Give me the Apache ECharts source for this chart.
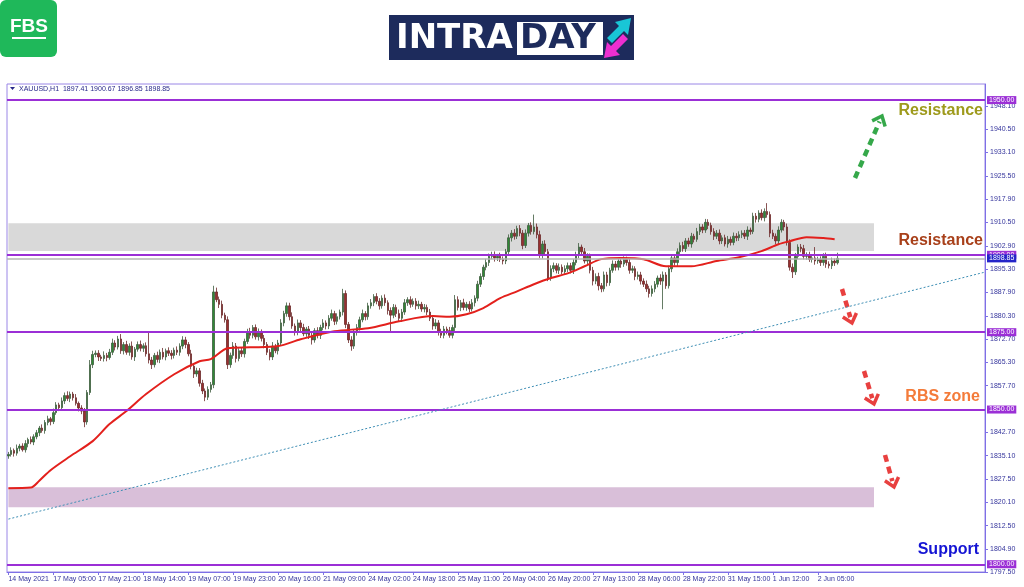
<!DOCTYPE html>
<html>
<head>
<meta charset="utf-8">
<script src="https://cdn.jsdelivr.net/npm/echarts@6/dist/echarts.min.js"></script>
<style>
html,body{margin:0;padding:0;background:#fff;}
#c{width:1024px;height:587px;}
</style>
</head>
<body>
<div id="c"></div>
<script>
// ---------------- DATA ----------------
const tickLabels = ['14 May 2021','17 May 05:00','17 May 21:00','18 May 14:00','19 May 07:00','19 May 23:00','20 May 16:00','21 May 09:00','24 May 02:00','24 May 18:00','25 May 11:00','26 May 04:00','26 May 20:00','27 May 13:00','28 May 06:00','28 May 22:00','31 May 15:00','1 Jun 12:00','2 Jun 05:00'];
const barsPerLabel = 16;
const totalSlots = 348;

const priceTicks = [1948.10,1940.50,1933.10,1925.50,1917.90,1910.50,1902.90,1895.30,1887.90,1880.30,1872.70,1865.30,1857.70,1842.70,1835.10,1827.50,1820.10,1812.50,1804.90,1797.50];
const levels = [1950, 1900, 1875, 1850, 1800];
const currentPrice = 1898.85;
const firstOpen = 1835.0;

const closes = [
1835.5,1836.8,1835.9,1837.5,1838.2,1837.0,1839.0,1840.3,1839.5,1841.2,
1842.5,1844.0,1843.2,1845.8,1847.0,1846.1,1849.0,1851.5,1850.6,1852.8,
1854.5,1853.6,1855.0,1853.8,1852.0,1850.5,1849.5,1846.0,1855.5,1864.5,
1867.8,1868.2,1867.0,1866.5,1867.5,1866.8,1868.5,1871.5,1870.2,1872.8,
1869.0,1871.0,1868.5,1870.5,1867.0,1869.5,1871.0,1869.8,1870.6,1868.0,
1866.0,1864.5,1867.5,1866.2,1868.5,1867.0,1869.0,1868.2,1867.5,1869.2,
1868.5,1870.5,1872.5,1871.0,1868.0,1864.0,1861.5,1862.5,1858.5,1856.0,
1854.0,1856.5,1858.0,1888.0,1885.5,1884.0,1880.5,1879.0,1864.5,1867.5,
1870.5,1866.5,1869.0,1868.0,1872.0,1875.0,1874.0,1876.5,1873.5,1875.0,
1873.0,1871.0,1868.5,1867.0,1870.5,1869.0,1871.5,1878.0,1881.0,1883.5,
1880.0,1877.0,1875.0,1878.0,1876.5,1874.5,1876.0,1874.0,1872.5,1875.5,
1874.0,1876.5,1878.0,1877.0,1879.5,1881.0,1878.5,1880.0,1881.5,1887.5,
1877.5,1872.5,1870.5,1875.0,1876.5,1879.0,1881.0,1880.0,1883.5,1884.5,
1886.5,1885.0,1883.5,1886.0,1884.5,1882.0,1880.5,1883.0,1881.0,1879.5,
1881.5,1884.5,1885.5,1884.0,1885.0,1883.5,1884.0,1882.5,1883.0,1881.5,
1879.5,1877.0,1878.0,1875.0,1874.0,1876.0,1875.5,1874.0,1876.5,1885.5,
1883.0,1884.5,1883.0,1884.0,1882.5,1884.5,1886.0,1890.5,1893.0,1896.0,
1897.5,1899.5,1900.0,1899.0,1899.5,1898.5,1898.0,1901.0,1905.5,1907.0,
1906.0,1908.5,1907.0,1903.0,1907.0,1909.5,1907.5,1909.0,1906.5,1900.0,
1903.5,1901.0,1892.5,1895.5,1896.5,1895.0,1896.0,1894.5,1895.5,1896.5,
1895.0,1897.5,1900.0,1902.5,1901.0,1898.0,1899.5,1895.0,1891.5,1893.0,
1890.0,1889.0,1893.5,1891.0,1895.0,1897.0,1896.0,1898.0,1897.0,1898.5,
1897.5,1895.0,1895.5,1893.0,1893.5,1891.5,1890.5,1889.0,1887.5,1889.0,
1890.5,1892.5,1891.5,1893.5,1890.0,1895.5,1899.0,1897.5,1901.0,1903.0,
1902.0,1904.5,1903.5,1906.0,1905.0,1907.5,1909.0,1908.0,1910.5,1909.5,
1907.5,1906.0,1907.0,1904.5,1905.5,1903.5,1905.0,1904.0,1906.0,1905.5,
1906.5,1907.0,1906.0,1908.0,1907.5,1912.5,1911.5,1913.5,1912.0,1914.0,
1913.0,1907.0,1906.0,1904.5,1908.0,1910.5,1909.0,1904.0,1896.0,1894.5,
1899.5,1902.5,1902.0,1899.5,1900.0,1898.5,1899.0,1898.0,1898.5,1897.5,
1899.5,1897.0,1896.5,1898.0,1897.41,1898.85
];
const upWick = [
0.8,1.0,0.6,1.2,0.7,0.9,1.1,0.6,1.0,0.8,
0.9,0.7,1.2,0.8,1.0,0.6,1.3,0.9,0.7,1.1,
1.0,1.4,0.8,0.7,1.2,0.6,0.9,1.0,0.8,1.5,
1.2,0.9,1.0,0.7,1.3,0.8,1.1,1.4,0.9,1.0,
1.6,0.8,1.2,0.9,1.5,0.7,1.0,1.3,0.8,1.1,
7.3,1.0,0.8,1.2,0.9,1.4,0.7,1.1,1.0,0.8,
1.2,0.9,1.2,1.0,0.8,1.3,0.7,1.0,0.9,1.1,
0.8,1.0,0.9,2.0,1.4,1.0,1.2,0.8,1.1,0.9,
1.3,1.0,0.8,1.2,0.9,1.1,1.4,0.8,1.0,1.2,
0.9,1.1,0.8,1.0,1.3,0.7,1.0,1.2,0.9,1.1,
1.0,1.4,0.8,1.1,0.9,1.2,0.7,1.0,1.3,0.8,
1.1,0.9,1.2,0.8,1.0,1.3,0.9,1.1,0.8,1.5,
1.0,0.8,1.2,0.9,1.1,1.0,1.3,0.8,1.0,1.2,
0.8,1.1,1.0,0.9,1.2,0.8,1.0,1.1,0.9,1.3,
1.0,1.2,0.8,1.1,0.9,1.0,1.2,0.8,1.1,0.9,
1.0,0.8,1.2,0.9,1.1,1.0,0.8,1.2,0.9,1.5,
1.1,0.9,1.3,0.8,1.0,1.2,0.9,1.1,1.0,0.8,
1.2,0.9,1.0,1.1,0.8,1.2,1.0,0.9,1.1,1.0,
1.3,0.9,1.1,1.0,1.2,0.8,1.0,4.0,1.1,1.3,
1.0,1.2,0.9,1.1,1.0,0.8,1.2,0.9,1.1,1.0,
0.9,1.1,1.0,1.3,0.8,1.2,1.0,0.9,1.1,1.0,
1.2,0.9,1.1,1.0,0.8,1.2,1.0,1.1,0.9,1.0,
0.9,1.2,1.0,0.8,1.1,1.0,0.9,1.2,1.0,1.1,
1.0,0.8,1.2,1.1,0.9,1.0,1.2,0.9,1.1,1.0,
1.2,0.9,1.0,1.1,0.8,1.2,1.0,0.9,1.1,1.0,
0.9,1.1,1.0,1.2,0.8,1.0,1.1,0.9,1.2,1.0,
1.1,0.9,1.0,1.2,0.8,1.1,1.0,0.9,1.2,1.0,
2.7,1.0,1.1,0.9,1.2,1.0,0.8,1.1,1.0,1.2,
1.1,0.9,1.0,1.2,0.8,1.0,1.1,3.5,0.9,1.0,
1.0,1.2,0.9,1.1,0.8,1.82
];
const downWick = [
0.9,0.7,1.1,0.8,1.0,0.6,0.9,1.2,0.7,1.0,
0.8,1.1,0.7,1.0,0.9,1.2,0.8,0.7,1.1,0.9,
1.0,0.8,1.2,0.9,0.7,1.1,1.0,1.7,0.9,0.8,
1.1,0.9,1.3,0.8,1.0,1.2,0.7,0.9,1.1,0.8,
1.0,1.2,0.8,1.1,0.9,1.3,0.8,1.0,1.2,0.9,
1.1,1.4,0.9,1.0,1.2,0.8,1.1,0.9,1.3,1.0,
0.9,1.1,1.0,1.2,0.8,1.0,1.3,0.9,1.1,1.0,
1.3,0.9,1.0,1.1,0.8,1.2,1.0,0.9,1.4,1.0,
1.1,1.3,0.9,1.0,1.2,0.8,1.1,1.0,0.9,1.2,
1.0,1.2,0.9,1.1,1.0,0.8,1.2,0.9,1.1,1.0,
1.2,0.9,1.1,1.0,1.3,0.8,1.0,1.2,1.5,0.9,
1.0,1.2,0.9,1.1,1.0,0.8,1.2,1.0,0.9,1.1,
1.2,1.0,1.5,0.9,1.1,1.0,0.8,1.2,1.0,0.9,
1.1,1.0,1.2,0.9,1.0,1.3,5.5,1.0,1.1,0.9,
1.2,0.9,1.0,1.1,0.8,1.2,1.0,0.9,1.1,1.0,
0.9,1.2,1.0,1.1,0.9,1.0,1.2,0.8,1.0,1.1,
1.0,1.2,0.9,1.1,1.0,0.8,1.2,1.0,0.9,1.1,
1.0,1.1,0.9,1.2,1.0,0.8,1.1,1.0,0.9,1.2,
1.1,0.9,1.0,1.2,0.8,1.1,1.0,0.9,1.2,1.0,
1.2,1.0,1.0,0.9,1.1,1.0,1.2,0.8,1.0,1.1,
1.0,1.2,0.9,1.1,1.0,0.8,1.2,1.0,1.4,1.0,
1.5,1.1,0.9,1.2,1.0,0.8,1.1,1.0,1.2,0.9,
1.0,1.1,0.9,1.2,1.0,1.1,0.9,1.0,1.3,1.0,
1.1,1.0,1.2,9.1,1.0,0.9,1.1,1.0,1.2,0.9,
1.0,1.1,0.9,1.2,1.0,0.8,1.1,1.0,0.9,1.2,
1.0,1.2,0.9,1.1,1.0,0.8,1.2,1.0,0.9,1.1,
1.0,1.1,0.9,1.2,1.0,0.8,1.1,1.0,0.9,1.2,
1.0,1.3,0.9,1.1,1.0,0.8,1.2,1.0,1.1,2.0,
1.0,0.9,1.2,1.0,1.1,0.8,1.0,1.2,0.9,1.1,
1.0,1.2,0.9,1.1,1.0,0.56
];
// moving average, read at sample bars: [bar index, value]
const maPoints = [
[0,1824.6],[8,1824.8],[11,1827.0],[15,1830.4],[22,1834.9],[30,1839.8],[36,1845.3],[42,1849.5],
[49,1855.0],[59,1861.4],[68,1865.6],[72,1866.3],[78,1869.8],[86,1870.1],[96,1870.5],[104,1872.7],
[116,1875.3],[128,1876.3],[139,1878.5],[151,1880.2],[157,1880.0],[163,1880.8],[169,1882.8],[175,1886.0],
[181,1888.2],[187,1890.5],[193,1892.5],[199,1894.0],[205,1896.3],[211,1898.6],[218,1899.0],[226,1898.6],
[234,1896.3],[243,1896.3],[252,1898.0],[260,1899.2],[268,1901.2],[274,1903.4],[278,1904.4],[284,1905.7],
[290,1905.4],[294,1905.0]
];
const trendStart = [0, 1814.6];
const trendEnd = [347, 1894.3];
const resistanceBox = [1901.2, 1910.2];
const supportBox = [1818.4, 1824.9];
const boxEndBar = 308;
const titleText = 'XAUUSD,H1  1897.41 1900.67 1896.85 1898.85';

// ---------------- BUILD ----------------
const categories = [];
for (let i = 0; i < totalSlots; i++) {
  const k = i / barsPerLabel;
  categories.push(i % barsPerLabel === 0 && k < tickLabels.length ? tickLabels[k] : 'b' + i);
}
const showTick = (i) => i % barsPerLabel === 0 && (i / barsPerLabel) < tickLabels.length;

const candles = [];
let prev = firstOpen;
for (let i = 0; i < closes.length; i++) {
  const o = prev, c = closes[i];
  candles.push([o, c, Math.min(o, c) - downWick[i], Math.max(o, c) + upWick[i]]);
  prev = c;
}

const AXIS = '#7d70e6';
const LBL = '#34349c';
const PURPLE = '#9b2fd6';
const FONT = '"Liberation Sans", Arial, sans-serif';

const levelLines = levels.map(v => ({
  yAxis: v,
  lineStyle: {color: PURPLE, width: 2, type: 'solid'},
  label: {show: true, position: 'end', distance: 2, formatter: () => v.toFixed(2),
    backgroundColor: PURPLE, color: '#fff', fontSize: 7, fontFamily: FONT, padding: [1, 2, 0, 2]}
}));
levelLines.push({
  yAxis: currentPrice,
  lineStyle: {color: '#b4b4b4', width: 1.5, type: 'solid'},
  label: {show: true, position: 'end', distance: 2, formatter: () => currentPrice.toFixed(2),
    backgroundColor: '#2424c8', color: '#fff', fontSize: 7, fontFamily: FONT, padding: [0, 2, 1, 2]}
});
levelLines.push([
  {coord: trendStart, lineStyle: {color: '#3f8fb5', width: 1, type: [2, 2]}, label: {show: false}},
  {coord: trendEnd}
]);

const chart = echarts.init(document.getElementById('c'), null, {renderer: 'canvas'});

function arrow(x0, y0, x1, y1, color) {
  const dx = x1 - x0, dy = y1 - y0, L = Math.hypot(dx, dy);
  const ux = dx / L, uy = dy / L;
  const ang = Math.atan2(uy, ux) + Math.PI;
  const h = 11, s = 0.7;
  return [
    {type: 'line', silent: true, shape: {x1: x0, y1: y0, x2: x1 - ux * 6, y2: y1 - uy * 6},
     style: {stroke: color, lineWidth: 4.5, lineDash: [7, 5]}},
    {type: 'polyline', silent: true, shape: {points: [
      [x1 + h * Math.cos(ang - s), y1 + h * Math.sin(ang - s)], [x1, y1],
      [x1 + h * Math.cos(ang + s), y1 + h * Math.sin(ang + s)]]},
     style: {stroke: color, lineWidth: 3.5, fill: null}}
  ];
}

const annotations = [
  {type: 'text', style: {text: 'Resistance', x: 983, y: 111, align: 'right', verticalAlign: 'middle', fill: '#9e9a1c', font: 'bold 16px ' + FONT}},
  {type: 'text', style: {text: 'Resistance', x: 983, y: 241, align: 'right', verticalAlign: 'middle', fill: '#a8401a', font: 'bold 16px ' + FONT}},
  {type: 'text', style: {text: 'RBS zone', x: 980, y: 397, align: 'right', verticalAlign: 'middle', fill: '#f47b3a', font: 'bold 16px ' + FONT}},
  {type: 'text', style: {text: 'Support', x: 979, y: 550, align: 'right', verticalAlign: 'middle', fill: '#1414d4', font: 'bold 16px ' + FONT}}
].concat(
  arrow(855, 178, 882, 116, '#35a84a'),
  arrow(842, 289, 852, 323, '#e8403f'),
  arrow(864, 371, 874, 404, '#e8403f'),
  arrow(885, 455, 894, 487, '#e8403f')
);

const LOGO = '"DejaVu Sans", "Liberation Sans", sans-serif';
const header = [
  {type: 'rect', shape: {x: 0, y: 0, width: 57, height: 57, r: 6}, style: {fill: '#1fb85a'}},
  {type: 'text', style: {text: 'FBS', x: 29, y: 27, align: 'center', verticalAlign: 'middle', fill: '#fff', font: 'bold 19px ' + FONT}},
  {type: 'rect', shape: {x: 12, y: 37, width: 34, height: 2}, style: {fill: '#fff'}},
  {type: 'rect', shape: {x: 389, y: 15, width: 245, height: 45}, style: {fill: '#1d2b5c'}},
  {type: 'text', style: {text: 'INTRA', x: 396, y: 39, verticalAlign: 'middle', fill: '#fff', font: 'bold 34px ' + LOGO}},
  {type: 'rect', shape: {x: 517, y: 22, width: 86, height: 33}, style: {fill: '#fff'}},
  {type: 'text', style: {text: 'DAY', x: 520, y: 39, verticalAlign: 'middle', fill: '#1d2b5c', font: 'bold 34px ' + LOGO}},
  {type: 'polygon', shape: {points: [[631, 18], [628, 35], [624, 31], [612, 43], [607, 38], [619, 26], [615, 22]]}, style: {fill: '#19c6d6'}},
  {type: 'polygon', shape: {points: [[604, 58], [607, 42], [611, 46], [623, 34], [628, 39], [616, 51], [620, 55]]}, style: {fill: '#ec2fd0'}},
  {type: 'polygon', shape: {points: [[10, 87], [15, 87], [12.5, 90]]}, style: {fill: '#28288a'}},
  {type: 'text', style: {text: titleText, x: 19, y: 89, verticalAlign: 'middle', fill: '#28288a', font: '7px ' + FONT}}
];

chart.setOption({
  animation: false,
  backgroundColor: '#ffffff',
  grid: {left: 7, right: 39, top: 84, bottom: 15, show: true, borderColor: '#9a86e6', borderWidth: 1},
  xAxis: {
    type: 'category', data: categories, boundaryGap: true,
    axisLine: {show: true, lineStyle: {color: AXIS, width: 1}},
    axisTick: {show: true, interval: showTick, alignWithLabel: true, length: 3, lineStyle: {color: AXIS}},
    axisLabel: {interval: showTick, fontSize: 7, color: LBL, fontFamily: FONT, align: 'left', margin: 4},
    splitLine: {show: false}
  },
  yAxis: {
    type: 'value', position: 'right', min: 1797.5, max: 1955.2, scale: true,
    axisLine: {show: true, lineStyle: {color: AXIS, width: 1}},
    axisTick: {show: true, length: 3, customValues: priceTicks, lineStyle: {color: AXIS}},
    axisLabel: {customValues: priceTicks, fontSize: 7, color: LBL, fontFamily: FONT, margin: 5, formatter: v => v.toFixed(2)},
    splitLine: {show: false}
  },
  series: [
    {
      type: 'candlestick', data: candles, barWidth: 2, silent: true,
      itemStyle: {color: '#2f8a35', color0: '#9a2f2f', borderColor: '#3d5a3d', borderColor0: '#6b2a2a', borderWidth: 0.8},
      markArea: {silent: true, data: [
        [{xAxis: 0, yAxis: resistanceBox[1], itemStyle: {color: '#d9d9d9', opacity: 1}}, {xAxis: boxEndBar, yAxis: resistanceBox[0]}],
        [{xAxis: 0, yAxis: supportBox[1], itemStyle: {color: '#d9bfd9', opacity: 1}}, {xAxis: boxEndBar, yAxis: supportBox[0]}]
      ]},
      markLine: {silent: true, symbol: ['none', 'none'], data: levelLines}
    },
    {
      type: 'line', data: maPoints, smooth: 0.3, showSymbol: false, silent: true,
      lineStyle: {color: '#e3201c', width: 2}, z: 3
    }
  ],
  graphic: header.concat(annotations)
});
</script>
</body>
</html>
